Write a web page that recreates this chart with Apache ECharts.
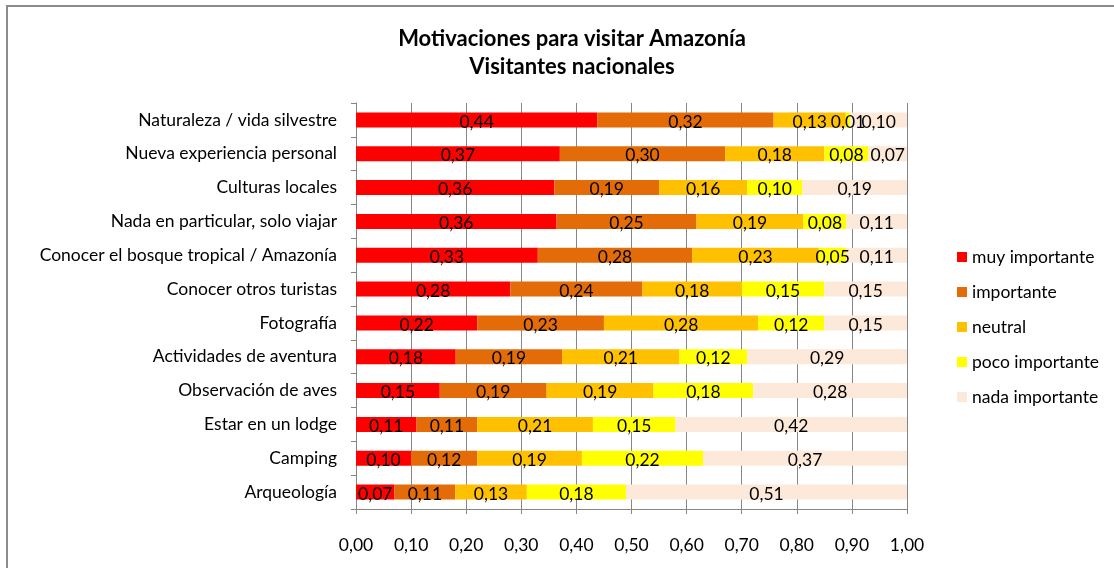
<!DOCTYPE html>
<html>
<head>
<meta charset="utf-8">
<script src="https://cdn.jsdelivr.net/npm/echarts@6/dist/echarts.min.js"></script>
<style>
  html, body { margin: 0; padding: 0; background: #fff; }
  #chart { width: 1114px; height: 568px; }
</style>
</head>
<body>
<div id="chart"></div>
<script>
// categorias de abajo hacia arriba (eje Y en ECharts empieza abajo)
var categories = [
  'Arqueología',
  'Camping',
  'Estar en un lodge',
  'Observación de aves',
  'Actividades de aventura',
  'Fotografía',
  'Conocer otros turistas',
  'Conocer el bosque tropical / Amazonía',
  'Nada en particular, solo viajar',
  'Culturas locales',
  'Nueva experiencia personal',
  'Naturaleza / vida silvestre'
]
var muyImportante = [0.07, 0.10, 0.11, 0.152, 0.181, 0.22, 0.28, 0.33, 0.364, 0.36, 0.37, 0.438]
var importante = [0.11, 0.12, 0.11, 0.194, 0.193, 0.23, 0.24, 0.28, 0.254, 0.19, 0.30, 0.320]
var neutral = [0.13, 0.19, 0.21, 0.194, 0.213, 0.28, 0.18, 0.23, 0.194, 0.16, 0.18, 0.131]
var pocoImportante = [0.18, 0.22, 0.15, 0.181, 0.123, 0.12, 0.15, 0.05, 0.078, 0.10, 0.08, 0.008]
var nadaImportante = [0.51, 0.37, 0.42, 0.279, 0.290, 0.15, 0.15, 0.11, 0.110, 0.19, 0.07, 0.103]

var seriesNames = ['muy importante', 'importante', 'neutral', 'poco importante', 'nada importante']
var seriesData = [muyImportante, importante, neutral, pocoImportante, nadaImportante]
var colors = ['#FF0000', '#E36C09', '#FFC000', '#FFFF00', '#FDE9D9']

var font = 'Lato, "Open Sans", sans-serif'

function fmt(v) {
  return Number(v).toFixed(2).replace('.', ',')
}

var chart = echarts.init(document.getElementById('chart'))

var series = []
seriesData.forEach(function(data, i) {
  series.push({
    name: seriesNames[i],
    type: 'bar',
    stack: 'total',
    barWidth: 15,
    data: data,
    itemStyle: { color: colors[i] },
    label: {
      show: true,
      position: 'inside',
      color: '#000',
      fontFamily: font,
      fontSize: 17.5,
      offset: [0, 2],
      formatter: function(p) { return fmt(p.value) }
    }
  })
})

chart.setOption({
  animation: false,
  color: colors,
  title: {
    text: 'Motivaciones para visitar Amazonía\nVisitantes nacionales',
    left: 567,
    top: 20,
    textAlign: 'center',
    textStyle: {
      fontFamily: font,
      fontWeight: 'bold',
      fontSize: 22,
      lineHeight: 28,
      color: '#000'
    }
  },
  graphic: [{
    type: 'rect',
    shape: { x: 7, y: 6, width: 1120, height: 600 },
    style: { fill: 'none', stroke: '#8c8c8c', lineWidth: 2 },
    silent: true,
    z: -1
  }],
  legend: {
    orient: 'vertical',
    left: 957,
    top: 248,
    padding: 0,
    itemWidth: 10,
    itemHeight: 10,
    itemGap: 17,
    icon: 'rect',
    data: seriesNames,
    textStyle: { fontFamily: font, fontSize: 17.5, color: '#000' }
  },
  grid: {
    left: 356,
    right: 207,
    top: 103,
    bottom: 59,
    containLabel: false
  },
  xAxis: {
    type: 'value',
    min: 0,
    max: 1,
    interval: 0.1,
    axisLine: { show: true, lineStyle: { color: '#868686', width: 1 } },
    axisTick: { show: true, length: 5, lineStyle: { color: '#868686' } },
    axisLabel: {
      margin: 27,
      color: '#000',
      fontFamily: font,
      fontSize: 17.5,
      formatter: function(v) { return fmt(v) }
    },
    splitLine: { show: true, lineStyle: { color: '#868686', width: 1 } }
  },
  yAxis: {
    type: 'category',
    data: categories,
    axisLine: { show: true, lineStyle: { color: '#868686', width: 1 } },
    axisTick: { show: true, length: 5, lineStyle: { color: '#868686' } },
    axisLabel: {
      margin: 19,
      color: '#000',
      fontFamily: font,
      fontSize: 17.5
    },
    splitLine: { show: false }
  },
  series: series
})
</script>
</body>
</html>
